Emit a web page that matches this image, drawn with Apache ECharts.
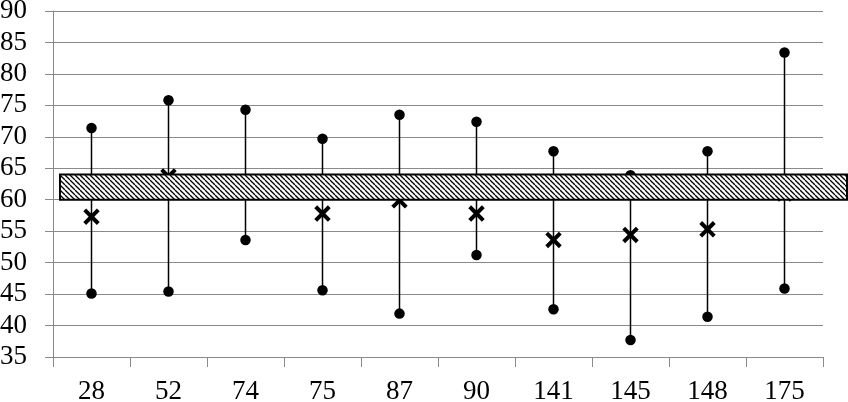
<!DOCTYPE html>
<html>
<head>
<meta charset="utf-8">
<script src="https://cdn.jsdelivr.net/npm/echarts@6/dist/echarts.min.js"></script>
<style>
  html, body { margin: 0; padding: 0; background: #fff; }
  #chart { width: 848px; height: 402px; }
</style>
</head>
<body>
<div id="chart"></div>
<script>
const categories = ['28', '52', '74', '75', '87', '90', '141', '145', '148', '175'];
const highValues = [71.4, 75.8, 74.3, 69.7, 73.5, 72.4, 67.7, 63.9, 67.7, 83.4];
const lowValues = [45.1, 45.4, 53.6, 45.6, 41.9, 51.2, 42.6, 37.7, 41.4, 45.9];
const meanValues = [57.3, 63.7, 62.5, 57.8, 59.9, 57.8, 53.6, 54.4, 55.3, 61.0];
const bandRange = [60, 64];

// hatch tile for the band
function hatch() {
  const s = 5;
  const c = document.createElement('canvas');
  c.width = s; c.height = s;
  const ctx = c.getContext('2d');
  ctx.fillStyle = '#fff';
  ctx.fillRect(0, 0, s, s);
  ctx.strokeStyle = '#000';
  ctx.lineWidth = 1.3;
  for (let k = -1; k <= 1; k++) {
    ctx.beginPath();
    ctx.moveTo(k * s, 0);
    ctx.lineTo(k * s + s, s);
    ctx.stroke();
  }
  return c;
}

const font = '"Liberation Serif", "DejaVu Serif", serif';
const gray = '#8a8a8a';

const rangeData = categories.map((c, i) => [i, lowValues[i], highValues[i]]);
const dotData = [];
categories.forEach((c, i) => {
  dotData.push([i, highValues[i]]);
  dotData.push([i, lowValues[i]]);
});
const meanData = categories.map((c, i) => [i, meanValues[i]]);

const chart = echarts.init(document.getElementById('chart'), null, { renderer: 'canvas' });
chart.setOption({
  animation: false,
  backgroundColor: '#fff',
  grid: { left: 53, right: 25, top: 11, bottom: 45, containLabel: false, outerBoundsMode: 'none' },
  xAxis: {
    type: 'category',
    data: categories,
    boundaryGap: true,
    axisLine: { lineStyle: { color: gray, width: 1 } },
    axisTick: { show: true, length: 10, alignWithLabel: false, lineStyle: { color: gray } },
    axisLabel: { color: '#000', fontFamily: font, fontSize: 27, margin: 21 },
    splitLine: { show: false }
  },
  yAxis: {
    type: 'value',
    min: 35,
    max: 90,
    interval: 5,
    axisLine: { show: true, lineStyle: { color: gray, width: 1 } },
    axisTick: { show: true, length: 8, lineStyle: { color: gray } },
    axisLabel: { color: '#000', fontFamily: font, fontSize: 27, margin: 26 },
    splitLine: { show: true, lineStyle: { color: gray, width: 1 } }
  },
  series: [
    {
      type: 'custom',
      z: 2,
      data: rangeData,
      renderItem: (params, api) => {
        const lo = api.coord([api.value(0), api.value(1)]);
        const hi = api.coord([api.value(0), api.value(2)]);
        return {
          type: 'line',
          shape: { x1: lo[0], y1: lo[1], x2: hi[0], y2: hi[1] },
          style: { stroke: '#000', lineWidth: 1.5 }
        };
      }
    },
    {
      type: 'scatter',
      z: 3,
      data: dotData,
      symbol: 'circle',
      symbolSize: 10.5,
      itemStyle: { color: '#000', opacity: 1 }
    },
    {
      type: 'custom',
      z: 4,
      data: meanData,
      renderItem: (params, api) => {
        const p = api.coord([api.value(0), api.value(1)]);
        const h = 6.8;
        return {
          type: 'group',
          children: [
            { type: 'line', shape: { x1: p[0] - h, y1: p[1] - h, x2: p[0] + h, y2: p[1] + h }, style: { stroke: '#000', lineWidth: 4 } },
            { type: 'line', shape: { x1: p[0] + h, y1: p[1] - h, x2: p[0] - h, y2: p[1] + h }, style: { stroke: '#000', lineWidth: 4 } }
          ]
        };
      }
    },
    {
      type: 'custom',
      z: 10,
      clip: false,
      data: [[0, bandRange[0], bandRange[1]]],
      renderItem: (params, api) => {
        const bw = api.size([1, 0])[0];
        const top = api.coord([0, api.value(2)]);
        const bot = api.coord([0, api.value(1)]);
        const x0 = top[0] - bw / 2 + 7;
        const x1 = api.getWidth() - 1;
        return {
          type: 'rect',
          shape: { x: x0, y: top[1], width: x1 - x0, height: bot[1] - top[1] },
          style: { fill: { image: hatch(), repeat: 'repeat' }, stroke: '#000', lineWidth: 2 }
        };
      }
    }
  ]
});
</script>
</body>
</html>
